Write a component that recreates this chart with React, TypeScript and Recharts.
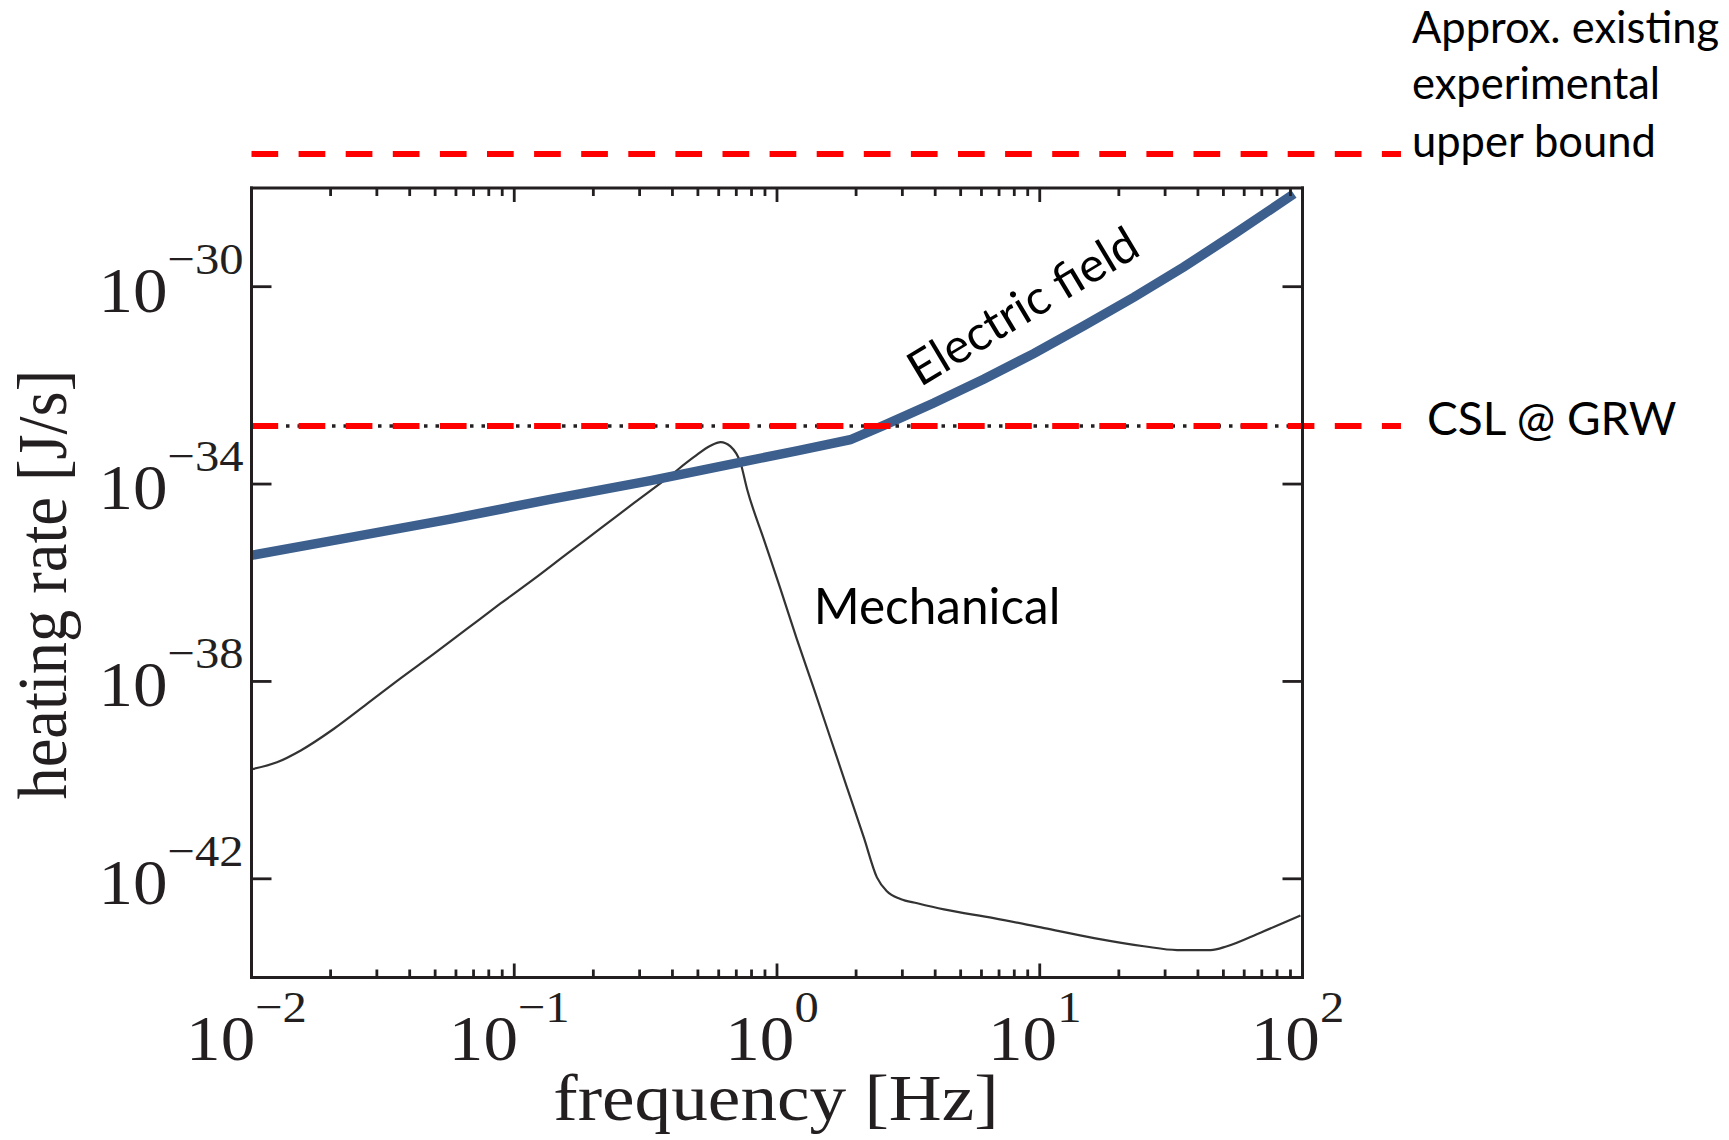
import React from 'react';
import { LineChart, Line, XAxis, YAxis, ReferenceLine, ReferenceDot } from 'recharts';

// frequency axis: decades get a "10^n" label, 2..9 of each decade get a short tick
const decadeTicks = [0.01, 0.1, 1, 10, 100];
const decadeLabels = ['\u22122', '\u22121', '0', '1', '2'];
const minorTicks = [0.01, 0.1, 1, 10].flatMap((d) => [2, 3, 4, 5, 6, 7, 8, 9].map((k) => k * d));

// heating rate axis
const rateTicks = [1e-30, 1e-34, 1e-38, 1e-42];
const rateLabels = ['\u221230', '\u221234', '\u221238', '\u221242'];

// electric field noise heating [J/s] vs frequency [Hz]
const electricFreq = [0.01, 0.0238, 0.0571, 0.137, 0.33, 0.771, 1.19, 1.9, 2.55, 3.95, 6.14, 9.48, 14.7, 22.8, 35.3, 54.8, 92.7];
const electricRate = [3.6e-36, 8.3e-36, 1.95e-35, 4.9e-35, 1.17e-34, 2.95e-34, 4.7e-34, 7.9e-34, 1.55e-33, 4.4e-33, 1.35e-32, 4.4e-32, 1.6e-31, 6.1e-31, 2.5e-30, 1.15e-29, 7.6e-29];

// mechanical (vibration) heating [J/s] vs frequency [Hz]
const mechanicalFreq = [
  0.01, 0.0125, 0.0154, 0.0206, 0.0275, 0.0369, 0.0494, 0.0662, 0.0887, 0.119, 0.159, 0.213, 0.285, 0.382,
  0.482, 0.558, 0.61, 0.665, 0.726, 0.771, 0.891, 1.03, 1.19, 1.38, 1.6, 1.85, 2.14, 2.4, 2.62, 2.95, 3.42,
  4.32, 6.68, 10.4, 16.1, 24.9, 33.3, 44.7, 51.6, 69.2, 98.2,
];
const mechanicalRate = [
  1.66e-40, 2.3e-40, 4.0e-40, 1.1e-39, 3.5e-39, 1.15e-38, 3.6e-38, 1.17e-37, 3.8e-37, 1.2e-36, 3.9e-36, 1.26e-35, 4.1e-35, 1.32e-34,
  3.5e-34, 6.0e-34, 7.1e-34, 5.8e-34, 2.7e-34, 7.6e-35, 7.6e-36, 7.6e-37, 7.2e-38, 7.2e-39, 6.9e-40, 6.9e-41, 6.9e-42, 1.07e-42, 5.6e-43, 3.9e-43, 3.2e-43,
  2.4e-43, 1.6e-43, 1.0e-43, 6.3e-44, 4.3e-44, 3.6e-44, 3.6e-44, 4.3e-44, 8.1e-44, 1.8e-43,
];

// horizontal bounds
const cslRate = 1.5e-33;
const upperBoundRate = 4.9e-28;
const boundEndFreq = 237;

const electricData = electricFreq.map((f, i) => ({ f, rate: electricRate[i] }));
const mechanicalData = mechanicalFreq.map((f, i) => ({ f, rate: mechanicalRate[i] }));

const INK = '#231f20';
const SERIF = '"Liberation Serif", "Times New Roman", serif';
const SANS = 'Lato, "Open Sans", sans-serif';
const RED = '#ff0000';
const BLUE = '#3c5f8d';

const FreqTick = (props: any) => {
  const { x, y, payload, side } = props;
  const i = decadeTicks.indexOf(payload.value);
  const len = i >= 0 ? 14 : 8;
  const dir = side === 'bottom' ? -1 : 1;
  return (
    <g>
      <line x1={x} x2={x} y1={y} y2={y + dir * len} stroke={INK} strokeWidth={2.8} />
      {side === 'bottom' && i >= 0 && (
        <text
          transform={`translate(${x - 5} ${y + 82.5}) scale(1.08 1)`}
          textAnchor="middle"
          fontFamily={SERIF}
          fontSize={64}
          fill={INK}
        >
          10
          <tspan fontSize={45} dy={-38}>
            {decadeLabels[i]}
          </tspan>
        </text>
      )}
    </g>
  );
};

const RateTick = (props: any) => {
  const { x, y, payload, side } = props;
  const i = rateTicks.indexOf(payload.value);
  const dir = side === 'left' ? 1 : -1;
  return (
    <g>
      <line x1={x} x2={x + dir * 20} y1={y} y2={y} stroke={INK} strokeWidth={2.8} />
      {side === 'left' && i >= 0 && (
        <text
          transform={`translate(${x - 8} ${y + 25}) scale(1.08 1)`}
          textAnchor="end"
          fontFamily={SERIF}
          fontSize={64}
          fill={INK}
        >
          10
          <tspan fontSize={45} dy={-38}>
            {rateLabels[i]}
          </tspan>
        </text>
      )}
    </g>
  );
};

const frame = { stroke: INK, strokeWidth: 3, strokeLinecap: 'square' as const };

export default function App() {
  return (
    <div style={{ position: 'absolute', left: 0, top: 0 }}>
      <LineChart width={1729} height={1140} margin={{ top: 88, right: 326.5, bottom: 62.5, left: 151.5 }}>
        <XAxis
          xAxisId="bottom"
          dataKey="f"
          type="number"
          scale="log"
          domain={[0.01, 100]}
          allowDataOverflow
          ticks={[...decadeTicks, ...minorTicks]}
          interval={0}
          height={100}
          tickSize={0}
          tickMargin={0}
          tickLine={false}
          axisLine={frame}
          tick={(p: any) => <FreqTick {...p} side="bottom" />}
          label={(p: any) => {
            const vb = p.viewBox;
            return (
              <text
                transform={`translate(${vb.x + vb.width / 2 - 1} ${vb.y + 142.5}) scale(1.11 1)`}
                textAnchor="middle"
                fontFamily={SERIF}
                fontSize={66}
                fill={INK}
              >
                frequency [Hz]
              </text>
            );
          }}
        />
        <XAxis
          xAxisId="top"
          orientation="top"
          dataKey="f"
          type="number"
          scale="log"
          domain={[0.01, 100]}
          allowDataOverflow
          ticks={[...decadeTicks, ...minorTicks]}
          interval={0}
          height={100}
          tickSize={0}
          tickMargin={0}
          tickLine={false}
          axisLine={frame}
          tick={(p: any) => <FreqTick {...p} side="top" />}
        />
        <YAxis
          yAxisId="left"
          type="number"
          scale="log"
          domain={[1e-44, 1e-28]}
          allowDataOverflow
          ticks={rateTicks}
          interval={0}
          width={100}
          tickSize={0}
          tickMargin={0}
          tickLine={false}
          axisLine={frame}
          tick={(p: any) => <RateTick {...p} side="left" />}
          label={(p: any) => {
            const vb = p.viewBox;
            return (
              <text
                transform={`translate(${vb.x - 85.5} ${vb.y + vb.height / 2 + 2}) scale(1.08 1) rotate(-90)`}
                textAnchor="middle"
                fontFamily={SERIF}
                fontSize={64.5}
                fill={INK}
              >
                heating rate [J/s]
              </text>
            );
          }}
        />
        <YAxis
          yAxisId="right"
          orientation="right"
          type="number"
          scale="log"
          domain={[1e-44, 1e-28]}
          allowDataOverflow
          ticks={rateTicks}
          interval={0}
          width={100}
          tickSize={0}
          tickMargin={0}
          tickLine={false}
          axisLine={frame}
          tick={(p: any) => <RateTick {...p} side="right" />}
        />

        <Line
          xAxisId="bottom"
          yAxisId="left"
          data={mechanicalData}
          dataKey="rate"
          type="monotone"
          stroke="#333333"
          strokeWidth={2.2}
          dot={false}
          activeDot={false}
          isAnimationActive={false}
        />
        <Line
          xAxisId="bottom"
          yAxisId="left"
          data={electricData}
          dataKey="rate"
          type="linear"
          stroke={BLUE}
          strokeWidth={9.5}
          dot={false}
          activeDot={false}
          isAnimationActive={false}
        />

        {/* CSL at GRW parameters: black dotted inside the frame, red dashes across */}
        <ReferenceLine xAxisId="bottom" yAxisId="left" y={cslRate} stroke={INK} strokeWidth={3.5} strokeDasharray="3.5 8" />
        <ReferenceLine
          xAxisId="bottom"
          yAxisId="left"
          segment={[
            { x: 0.01, y: cslRate },
            { x: boundEndFreq, y: cslRate },
          ]}
          ifOverflow="visible"
          stroke={RED}
          strokeWidth={6}
          strokeDasharray="26.7 20.4"
          label={(p: any) => {
            const vb = p.viewBox;
            return (
              <text x={vb.x + vb.width + 26} y={vb.y + 9} fontFamily={SANS} fontSize={46} fill="#000">
                CSL @ GRW
              </text>
            );
          }}
        />
        <ReferenceLine
          xAxisId="bottom"
          yAxisId="left"
          segment={[
            { x: 0.01, y: upperBoundRate },
            { x: boundEndFreq, y: upperBoundRate },
          ]}
          ifOverflow="visible"
          stroke={RED}
          strokeWidth={6}
          strokeDasharray="26.7 20.4"
          label={(p: any) => {
            const vb = p.viewBox;
            const x = vb.x + vb.width + 11;
            return (
              <text fontFamily={SANS} fontSize={43.5} fill="#000">
                <tspan x={x} y={vb.y - 111.3}>
                  Approx. existing
                </tspan>
                <tspan x={x} y={vb.y - 54.7}>
                  experimental
                </tspan>
                <tspan x={x} y={vb.y + 2.7}>
                  upper bound
                </tspan>
              </text>
            );
          }}
        />

        <ReferenceDot
          xAxisId="bottom"
          yAxisId="left"
          x={8.55}
          y={4.3e-31}
          r={0}
          fill="none"
          stroke="none"
          label={(p: any) => {
            const vb = p.viewBox;
            return (
              <text
                transform={`translate(${vb.x} ${vb.y}) rotate(-31)`}
                textAnchor="middle"
                dominantBaseline="central"
                fontFamily={SANS}
                fontSize={48}
                fill="#000"
              >
                Electric field
              </text>
            );
          }}
        />
        <ReferenceDot
          xAxisId="bottom"
          yAxisId="left"
          x={1.38}
          y={1.49e-37}
          r={0}
          fill="none"
          stroke="none"
          label={(p: any) => {
            const vb = p.viewBox;
            return (
              <text x={vb.x} y={vb.y} fontFamily={SANS} fontSize={49.5} fill="#000">
                Mechanical
              </text>
            );
          }}
        />
      </LineChart>
    </div>
  );
}
